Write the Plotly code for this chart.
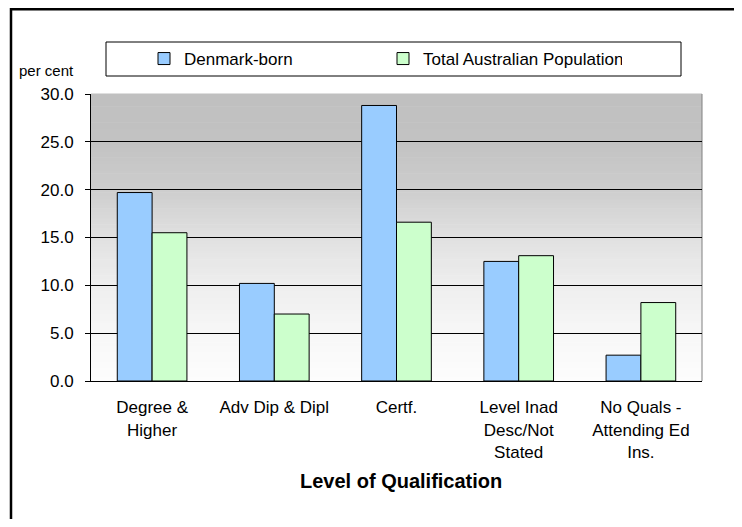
import plotly.graph_objects as go

# ---- data ----
categories = [
    "Degree &<br>Higher",
    "Adv Dip & Dipl",
    "Certf.",
    "Level Inad<br>Desc/Not<br>Stated",
    "No Quals -<br>Attending Ed<br>Ins.",
]
denmark_born = [19.7, 10.2, 28.8, 12.5, 2.7]
total_australian = [15.5, 7.0, 16.6, 13.1, 8.2]
series_names = ["Denmark-born", "Total Australian Population"]
y_tick_values = [0, 5, 10, 15, 20, 25, 30]
y_tick_labels = ["0.0", "5.0", "10.0", "15.0", "20.0", "25.0", "30.0"]
x_axis_title = "Level of Qualification"
y_axis_title = "per cent"

FONT = "Liberation Sans, Arial, sans-serif"
OFF = 8  # page body margin offset
W, H = 742 - OFF, 527 - 2 * OFF
L, R, T, B = 91 - OFF, 702 - OFF, 94 - OFF, 381 - OFF  # plot area in figure pixels
pw, ph = R - L, B - T


def px_x(x):  # screen x -> paper
    return (x - OFF - L) / pw


def px_y(y):  # screen y -> paper
    return (B - (y - OFF)) / ph


fig = go.Figure()
fig.add_trace(go.Bar(
    x=categories, y=denmark_born, name=series_names[0],
    marker=dict(color="#99CCFF", line=dict(color="black", width=1)),
))
fig.add_trace(go.Bar(
    x=categories, y=total_australian, name=series_names[1],
    marker=dict(color="#CCFFCC", line=dict(color="black", width=1)),
))

shapes = []
# gradient plot background (grey at top -> white at bottom)
stops = [(0.0, 253), (1 / 6, 247), (2 / 6, 238), (3 / 6, 225), (4 / 6, 205), (5 / 6, 194), (1.0, 192)]


def grey_at(t):
    for (t0, c0), (t1, c1) in zip(stops[:-1], stops[1:]):
        if t0 <= t <= t1:
            return c0 + (c1 - c0) * (t - t0) / (t1 - t0)
    return stops[-1][1]


N = 90
for i in range(N):
    y0, y1 = i / N, (i + 1) / N
    g = int(round(grey_at((y0 + y1) / 2)))
    shapes.append(dict(type="rect", xref="paper", yref="paper", x0=0, x1=1, y0=y0, y1=y1 + 0.002,
                       fillcolor=f"rgb({g},{g},{g})", line=dict(width=0), layer="below"))
# right edge of plot area
shapes.append(dict(type="line", xref="paper", yref="paper", x0=1, x1=1, y0=0, y1=1,
                   line=dict(color="#808080", width=1), layer="below"))
# legend box
shapes.append(dict(type="rect", xref="paper", yref="paper",
                   x0=px_x(106), x1=px_x(681), y0=px_y(76), y1=px_y(42),
                   fillcolor="white", line=dict(color="black", width=1), layer="below"))
# outer chart border (bottom edge lies below the visible area)
shapes.append(dict(type="rect", xref="paper", yref="paper",
                   x0=px_x(11), x1=px_x(739.5), y0=px_y(545), y1=px_y(9.3),
                   fillcolor="rgba(0,0,0,0)", line=dict(color="black", width=2.5), layer="above"))

annotations = [
    dict(text=y_axis_title, xref="paper", yref="paper", x=px_x(46), y=px_y(70),
         xanchor="center", yanchor="middle", showarrow=False,
         font=dict(family=FONT, size=15, color="black")),
    dict(text=f"<b>{x_axis_title}</b>", xref="paper", yref="paper", x=px_x(401), y=px_y(481),
         xanchor="center", yanchor="middle", showarrow=False,
         font=dict(family=FONT, size=20, color="black")),
]

fig.update_layout(
    width=W, height=H,
    margin=dict(l=L, r=W - R, t=T, b=H - B, pad=0),
    paper_bgcolor="white", plot_bgcolor="rgba(0,0,0,0)",
    font=dict(family=FONT, size=17, color="black"),
    barmode="group", bargap=0.43, bargroupgap=0,
    showlegend=True,
    legend=dict(orientation="h", x=px_x(144), y=px_y(59), xanchor="left", yanchor="middle",
                bgcolor="rgba(0,0,0,0)", borderwidth=0, font=dict(family=FONT, size=17),
                entrywidth=194, entrywidthmode="pixels", itemclick=False),
    shapes=shapes, annotations=annotations,
)
fig.update_xaxes(showline=True, linecolor="black", linewidth=1, ticks="", showgrid=False,
                 tickangle=0, ticklabelstandoff=11, automargin=False,
                 tickfont=dict(family=FONT, size=17))
fig.update_yaxes(range=[0, 30], tickvals=y_tick_values, ticktext=y_tick_labels,
                 showline=True, linecolor="black", linewidth=1,
                 ticks="outside", ticklen=5, tickcolor="black", ticklabelstandoff=8,
                 showgrid=True, gridcolor="black", gridwidth=1, zeroline=False,
                 automargin=False, tickfont=dict(family=FONT, size=17))

fig.write_html("out.html")
